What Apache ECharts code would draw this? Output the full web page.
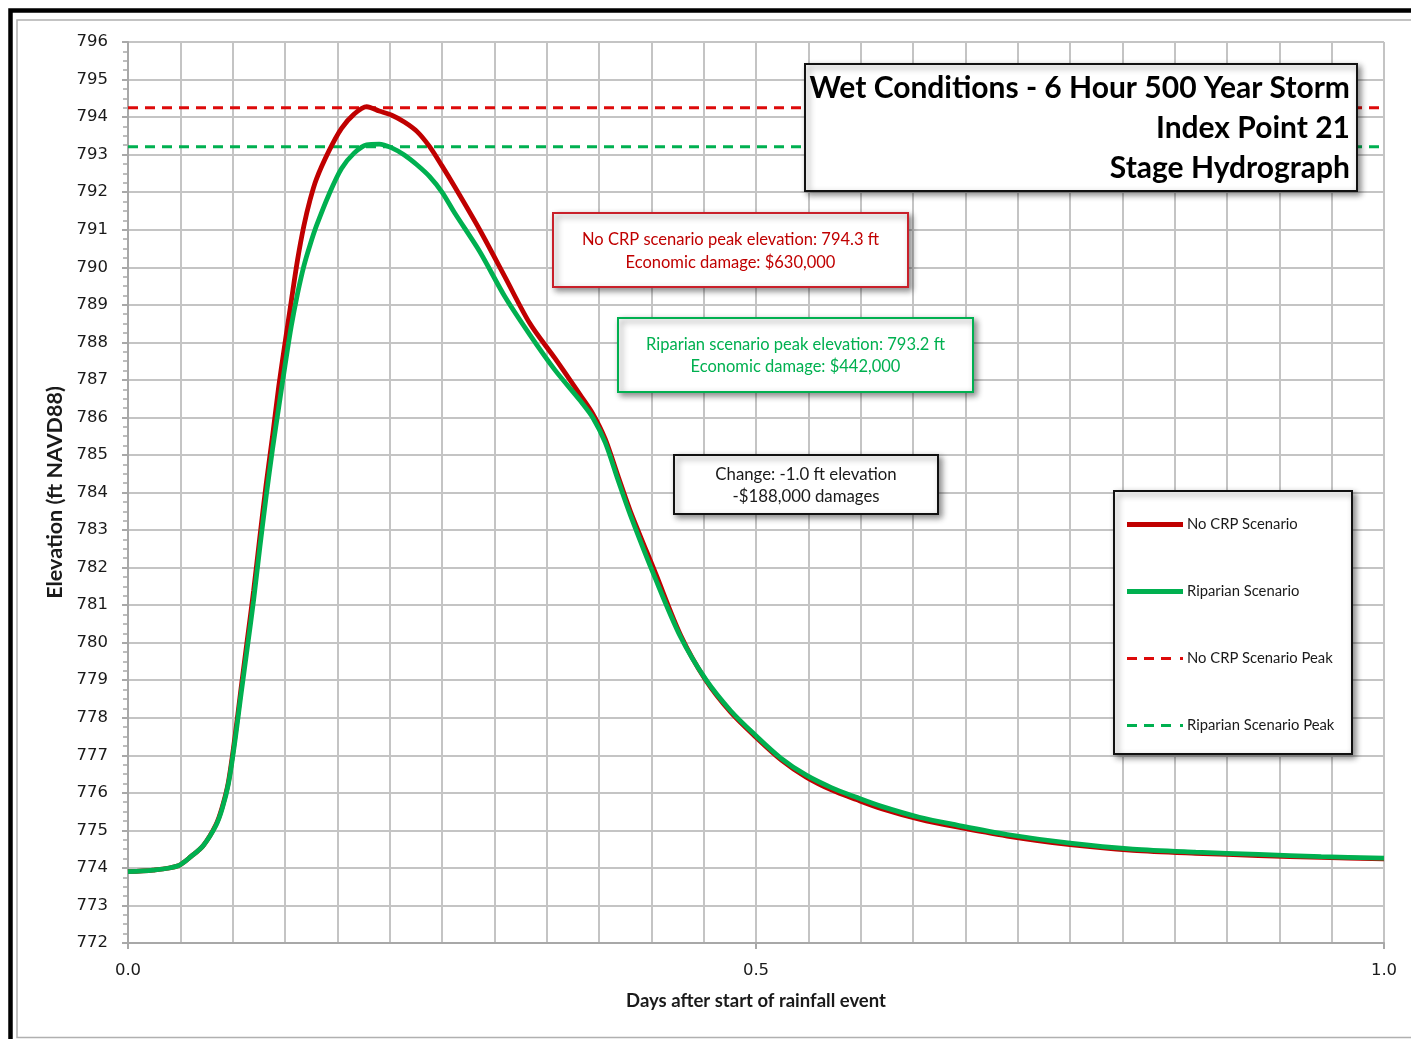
<!DOCTYPE html>
<html><head><meta charset="utf-8">
<script src="https://cdn.jsdelivr.net/npm/echarts/dist/echarts.min.js"></script>
<style>html,body{margin:0;padding:0;background:#fff}#c{width:1411px;height:1039px}</style>
</head><body><div id="c"></div>
<script>
// ---- data ----
const days = [0, 0.02, 0.04, 0.05, 0.06, 0.07, 0.075, 0.08, 0.085, 0.09, 0.095, 0.10, 0.105, 0.11, 0.115, 0.12, 0.125, 0.13, 0.135, 0.14, 0.145, 0.15, 0.16, 0.17, 0.18, 0.19, 0.20, 0.21, 0.22, 0.23, 0.24, 0.25, 0.26, 0.28, 0.30, 0.32, 0.34, 0.36, 0.37, 0.38, 0.39, 0.40, 0.42, 0.44, 0.46, 0.48, 0.50, 0.52, 0.54, 0.56, 0.58, 0.60, 0.63, 0.66, 0.70, 0.75, 0.80, 0.85, 0.90, 0.95, 1.00];
const noCrpElev = [773.90, 773.94, 774.06, 774.30, 774.60, 775.15, 775.62, 776.30, 777.45, 778.78, 780.08, 781.38, 782.82, 784.22, 785.48, 786.82, 787.98, 789.10, 790.20, 791.10, 791.80, 792.35, 793.10, 793.70, 794.08, 794.28, 794.16, 794.05, 793.87, 793.62, 793.22, 792.70, 792.15, 791.00, 789.75, 788.50, 787.57, 786.60, 786.10, 785.42, 784.45, 783.50, 781.85, 780.20, 779.00, 778.14, 777.48, 776.88, 776.42, 776.08, 775.82, 775.58, 775.30, 775.09, 774.85, 774.62, 774.47, 774.39, 774.33, 774.28, 774.24];
const riparianElev = [773.90, 773.94, 774.06, 774.30, 774.60, 775.13, 775.58, 776.25, 777.34, 778.63, 779.87, 781.13, 782.55, 783.90, 785.14, 786.27, 787.38, 788.43, 789.30, 790.03, 790.60, 791.10, 791.94, 792.63, 793.04, 793.26, 793.28, 793.18, 792.99, 792.73, 792.42, 792.00, 791.45, 790.42, 789.22, 788.20, 787.26, 786.45, 786.00, 785.33, 784.35, 783.40, 781.70, 780.15, 779.02, 778.18, 777.52, 776.92, 776.47, 776.14, 775.88, 775.64, 775.35, 775.14, 774.89, 774.66, 774.50, 774.42, 774.36, 774.30, 774.26];
const noCrpPeak = 794.25;
const riparianPeak = 793.21;
const peakSpan = [0, 1];
const xTickLabels = ['0.0', '0.5', '1.0'];
const yMin = 772, yMax = 796;
const seriesNames = ['No CRP Scenario', 'Riparian Scenario', 'No CRP Scenario Peak', 'Riparian Scenario Peak'];
const titleLines = ['Wet Conditions - 6 Hour 500 Year Storm', 'Index Point 21', 'Stage Hydrograph'];
const noteRed = ['No CRP scenario peak elevation: 794.3 ft', 'Economic damage: $630,000'];
const noteGreen = ['Riparian scenario peak elevation: 793.2 ft', 'Economic damage: $442,000'];
const noteChange = ['Change: -1.0 ft elevation', '-$188,000 damages'];

const RED = '#c00000', GREEN = '#00b050', DRED = '#dd0a0a', GRID = '#c4c4c4';
const SOLID_ICON = 'path://M0,0H56V5H0Z';
const DASH_ICON = 'path://M0,0H10V3H0Z M17,0H27V3H17Z M34,0H44V3H34Z M53,0H56V3H53Z';
const pair = (xs, ys) => xs.map((x, i) => [x, ys[i]]);
const shadow = { shadowBlur: 6, shadowOffsetX: 3, shadowOffsetY: 3, shadowColor: 'rgba(0,0,0,0.45)' };

function box(x, y, w, h, stroke, lines, color, fs, lh, bold, align) {
  return {
    type: 'group', z: 20,
    children: [
      { type: 'rect', z: 20, shape: { x, y, width: w, height: h },
        style: Object.assign({ fill: '#fff', stroke, lineWidth: 2 }, shadow) },
      { type: 'text', z: 21,
        style: { x: align === 'right' ? x + w - 7 : x + w / 2, y: y + h / 2 + 1,
          text: lines.join('\n'), fill: color, font: (bold ? 'bold ' : '') + fs + 'px Lato',
          align: align || 'center', verticalAlign: 'middle', lineHeight: lh } }
    ]
  };
}

const chart = echarts.init(document.getElementById('c'));
chart.setOption({
  backgroundColor: '#fff',
  animation: false,
  grid: { left: 128, right: 27, top: 42, bottom: 96 },
  legend: {
    data: [
      { name: seriesNames[0], icon: SOLID_ICON },
      { name: seriesNames[1], icon: SOLID_ICON },
      { name: seriesNames[2], icon: DASH_ICON },
      { name: seriesNames[3], icon: DASH_ICON }
    ],
    orient: 'vertical', left: 1127, top: 517, padding: 0,
    itemWidth: 56, itemHeight: 14, itemGap: 52, z: 30,
    itemStyle: { borderWidth: 0 },
    textStyle: { fontFamily: 'Lato', fontSize: 14.8, color: '#1a1a1a', padding: [0, 0, 0, -1] }
  },
  xAxis: [
    { type: 'value', min: 0, max: 1, interval: 1 / 24,
      axisLabel: { show: false }, axisTick: { show: false }, axisLine: { show: false },
      splitLine: { show: true, lineStyle: { color: GRID, width: 2 } } },
    { type: 'value', min: 0, max: 1, interval: 0.5, position: 'bottom',
      axisLine: { show: true, lineStyle: { color: '#a8a8a8', width: 2 } },
      axisTick: { show: true, length: 6, lineStyle: { color: '#a8a8a8', width: 2 } },
      splitLine: { show: false },
      axisLabel: { margin: 19, fontFamily: 'DejaVu Sans', fontSize: 16.5, color: '#1a1a1a',
        formatter: v => xTickLabels[Math.round(v / 0.5)] },
      name: 'Days after start of rainfall event', nameLocation: 'middle', nameGap: 49,
      nameTextStyle: { fontFamily: 'Lato', fontWeight: 'bold', fontSize: 18.5, color: '#1a1a1a' } }
  ],
  yAxis: [
    { type: 'value', min: yMin, max: yMax, interval: 1,
      axisLine: { show: true, lineStyle: { color: '#a8a8a8', width: 2 } },
      axisTick: { show: true, length: 6, lineStyle: { color: '#a8a8a8', width: 2 } },
      minorTick: { show: true, splitNumber: 4, length: 3, lineStyle: { color: '#a8a8a8', width: 1.5 } },
      splitLine: { show: true, lineStyle: { color: GRID, width: 2 } },
      axisLabel: { margin: 20, fontFamily: 'DejaVu Sans', fontSize: 16.5, color: '#1a1a1a' },
      name: 'Elevation (ft NAVD88)', nameLocation: 'middle', nameGap: 60,
      nameTextStyle: { fontFamily: 'Lato', fontWeight: 'bold', fontSize: 21.5, color: '#1a1a1a' } },
    { type: 'value', min: yMin, max: yMax, interval: 1, position: 'left',
      axisLine: { show: false }, axisLabel: { show: false }, splitLine: { show: false },
      axisTick: { show: false },
      minorTick: { show: true, splitNumber: 4, length: 5, lineStyle: { color: '#a8a8a8', width: 1.5 } } }
  ],
  series: [
    { name: seriesNames[2], type: 'line', showSymbol: false, symbol: 'none', z: 2,
      data: peakSpan.map(x => [x, noCrpPeak]),
      lineStyle: { color: DRED, width: 3, type: [10, 7] }, itemStyle: { color: DRED } },
    { name: seriesNames[3], type: 'line', showSymbol: false, symbol: 'none', z: 2,
      data: peakSpan.map(x => [x, riparianPeak]),
      lineStyle: { color: GREEN, width: 3, type: [10, 7] }, itemStyle: { color: GREEN } },
    { name: seriesNames[0], type: 'line', showSymbol: false, symbol: 'none', z: 3,
      smooth: 0.3, data: pair(days, noCrpElev),
      lineStyle: { color: RED, width: 4.8 }, itemStyle: { color: RED } },
    { name: seriesNames[1], type: 'line', showSymbol: false, symbol: 'none', z: 4,
      smooth: 0.3, data: pair(days, riparianElev),
      lineStyle: { color: GREEN, width: 4.8 }, itemStyle: { color: GREEN } }
  ],
  graphic: [
    { type: 'polyline', z: 50, shape: { points: [[10.5, 1039], [10.5, 10.5], [1411, 10.5]] },
      style: { stroke: '#000', lineWidth: 4.5, fill: null } },
    { type: 'polyline', z: 50, shape: { points: [[1411, 1037.5], [17, 1037.5], [17, 20], [1411, 20]] },
      style: { stroke: '#b0b0b0', lineWidth: 1.5, fill: null } },
    { type: 'rect', z: 20, shape: { x: 1114, y: 491, width: 238, height: 263 },
      style: Object.assign({ fill: '#fff', stroke: '#111', lineWidth: 2 }, shadow) },
    box(805, 64, 552, 127, '#111', titleLines, '#000', 30, 40, true, 'right'),
    box(553, 213, 355, 74, '#c9202a', noteRed, '#c00000', 16.5, 23, false),
    box(618, 318, 355, 74, '#00b050', noteGreen, '#00b050', 16.5, 22, false),
    box(674, 455, 264, 59, '#111', noteChange, '#1a1a1a', 16.8, 22, false)
  ]
});
</script>
</body></html>
